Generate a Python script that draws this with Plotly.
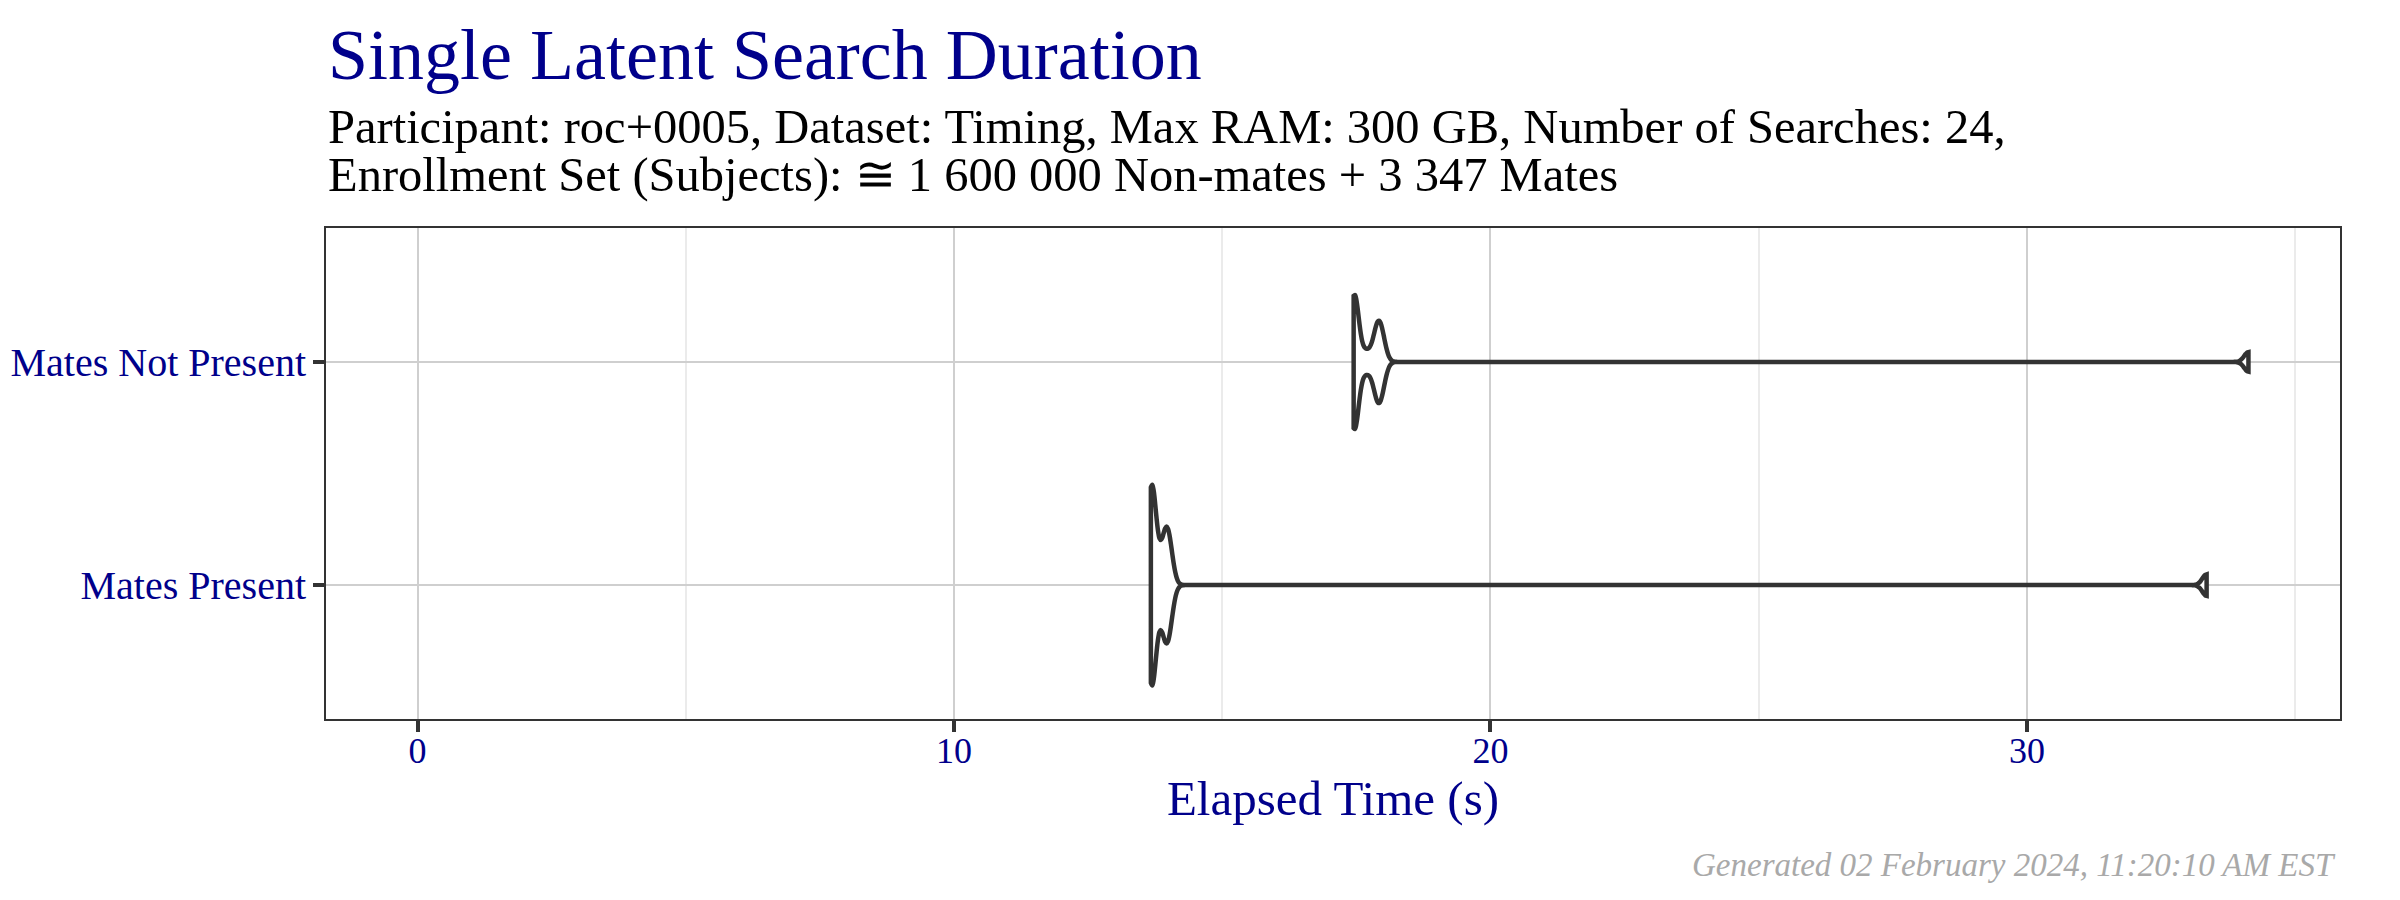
import plotly.graph_objects as go

# ---- data (seconds) ----
categories = ["Mates Present", "Mates Not Present"]
mates_present = [13.67, 13.67, 13.68, 13.68, 13.68, 13.69, 13.69, 13.70, 13.70,
                 13.80, 13.90, 13.94, 13.96, 13.98, 14.00, 14.03, 33.35]
mates_not_present = [17.45, 17.45, 17.46, 17.46, 17.47, 17.48, 17.49, 17.68,
                     17.85, 17.89, 17.92, 17.95, 17.99, 34.13]
series = [mates_present, mates_not_present]
x_ticks = [0, 10, 20, 30]

title_text = "Single Latent Search Duration"
subtitle_1 = "Participant: roc+0005, Dataset: Timing, Max RAM: 300 GB, Number of Searches: 24,"
subtitle_2 = "Enrollment Set (Subjects): \u2245 1 600 000 Non-mates + 3 347 Mates"
footer_text = "Generated 02 February 2024, 11:20:10 AM EST"
x_title = "Elapsed Time (s)"

# ---- style ----
W, H = 2400, 900
ML, MR, MT, MB = 326, 60, 228, 181
FONT = "Liberation Serif"
BLUE = "#00008B"
DARK = "#333333"
violin_widths = [0.9, 0.6]

fig = go.Figure()
for cat, vals, w in zip(categories, series, violin_widths):
    fig.add_trace(go.Violin(
        x=vals, y=[cat] * len(vals), orientation="h", name=cat,
        spanmode="hard", bandwidth=0.08, width=w,
        points=False, box_visible=False, meanline_visible=False,
        line=dict(color=DARK, width=4.5), fillcolor="white",
        showlegend=False, hoverinfo="x+y",
    ))

all_vals = [v for s in series for v in s]
lo, hi = 0.0, max(all_vals)
pad = (hi - lo) * 0.05

ph = H - MT - MB
def py(px):  # pixel row -> paper y
    return (H - MB - px) / ph

fig.update_layout(
    width=W, height=H,
    margin=dict(l=ML, r=MR, t=MT, b=MB, pad=0, autoexpand=False),
    paper_bgcolor="white", plot_bgcolor="white",
    violinmode="overlay",
    font=dict(family=FONT, color="black"),
    xaxis=dict(
        automargin=False,
        range=[lo - pad, hi + pad], tickvals=x_ticks, ticktext=[str(t) for t in x_ticks],
        showgrid=True, gridcolor="#CFCFCF", gridwidth=2,
        minor=dict(dtick=5, tick0=0, showgrid=True, gridcolor="#EBEBEB", gridwidth=1.5, ticks=""),
        zeroline=False,
        ticks="outside", ticklen=11, tickwidth=4, tickcolor=DARK,
        tickfont=dict(family=FONT, size=36, color=BLUE),
        ticklabelstandoff=-12,
        showline=True, linecolor=DARK, linewidth=2, mirror=True,
        title=dict(text=x_title, font=dict(family=FONT, size=49, color=BLUE), standoff=4),
    ),
    yaxis=dict(
        automargin=False,
        type="category", categoryorder="array", categoryarray=categories,
        range=[-0.6, 1.6],
        showgrid=True, gridcolor="#CFCFCF", gridwidth=2, zeroline=False,
        ticks="outside", ticklen=11, tickwidth=4, tickcolor=DARK,
        tickfont=dict(family=FONT, size=40, color=BLUE),
        ticklabelstandoff=-1,
        showline=True, linecolor=DARK, linewidth=2, mirror=True,
    ),
    annotations=[
        dict(text=title_text, xref="paper", yref="paper", x=0, y=py(80 + 0.22 * 72 + 1),
             xanchor="left", yanchor="bottom", showarrow=False,
             font=dict(family=FONT, size=72, color=BLUE)),
        dict(text=subtitle_1, xref="paper", yref="paper", x=0, y=py(143 + 0.22 * 48 + 1),
             xanchor="left", yanchor="bottom", showarrow=False,
             font=dict(family=FONT, size=48.5, color="black")),
        dict(text=subtitle_2, xref="paper", yref="paper", x=0, y=py(192 + 0.22 * 48 + 1),
             xanchor="left", yanchor="bottom", showarrow=False,
             font=dict(family=FONT, size=48.5, color="black")),
        dict(text="<i>" + footer_text + "</i>", xref="paper", yref="paper", x=0.999, y=py(877 + 0.22 * 33 + 1),
             xanchor="right", yanchor="bottom", showarrow=False,
             font=dict(family=FONT, size=33, color="#A9A9A9")),
    ],
)

fig.write_html("out.html")
